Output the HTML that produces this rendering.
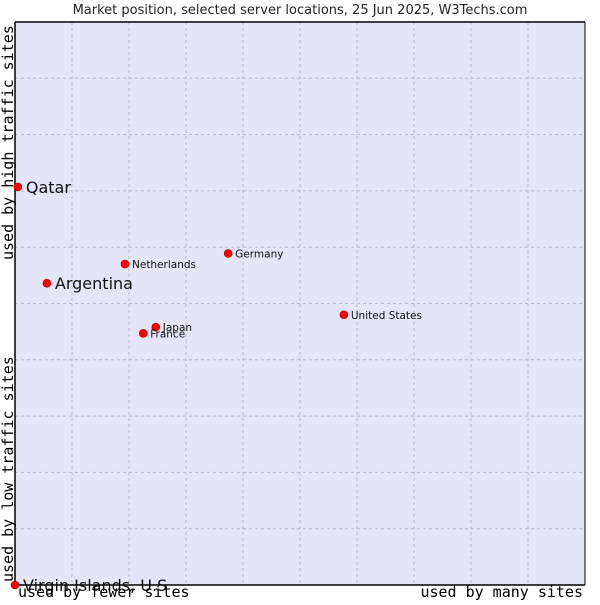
<!DOCTYPE html>
<html><head><meta charset="utf-8"><style>
body{margin:0;background:#fff;width:600px;height:600px;overflow:hidden}
svg text{font-family:"DejaVu Sans","Liberation Sans",sans-serif}
</style></head><body>
<svg id="chart" width="600" height="600" xmlns="http://www.w3.org/2000/svg">
<text x="300" y="14" text-anchor="middle" font-size="13" fill="#222">Market position, selected server locations, 25 Jun 2025, W3Techs.com</text>
<rect x="15" y="22" width="570" height="563" fill="#e4e5f7"/>
<g id="grid"></g>
<line x1="15" y1="22" x2="15" y2="585" stroke="#000" stroke-width="1.5"/>
<line x1="15" y1="585" x2="585" y2="585" stroke="#000" stroke-width="1.5"/>
<line x1="15" y1="22" x2="585" y2="22" stroke="#000" stroke-width="1.5"/>
<line x1="585" y1="22" x2="585" y2="585" stroke="#000" stroke-width="1"/>
<g id="points"></g>
<text x="18" y="597" font-size="15" style="font-family:'DejaVu Sans Mono','Liberation Mono',monospace" fill="#000">used by fewer sites</text>
<text x="583" y="597" text-anchor="end" font-size="15" style="font-family:'DejaVu Sans Mono','Liberation Mono',monospace" fill="#000">used by many sites</text>
<text transform="translate(13,582) rotate(-90)" font-size="15" style="font-family:'DejaVu Sans Mono','Liberation Mono',monospace" fill="#000">used by low traffic sites</text>
<text transform="translate(13,260) rotate(-90)" font-size="15" style="font-family:'DejaVu Sans Mono','Liberation Mono',monospace" fill="#000">used by high traffic sites</text>
</svg>
<script>
const names=["Qatar","Argentina","Netherlands","Germany","United States","Japan","France","Virgin Islands, U.S."];
const xValues=[0.5,5.6,19.3,37.4,57.7,24.7,22.5,0];
const yValues=[70.7,53.6,57.0,58.9,48.0,45.8,44.7,0];
const large=[true,true,false,false,false,false,false,true];
const gridTicks=[10,20,30,40,50,60,70,80,90];
const NS="http://www.w3.org/2000/svg";
const X=v=>15+v*5.7, Y=v=>585-v*5.63;
const grid=document.getElementById('grid'), pts=document.getElementById('points');
gridTicks.forEach(t=>{
 let l=document.createElementNS(NS,'line');
 
 
 l.setAttribute('x1',X(t));l.setAttribute('x2',X(t));l.setAttribute('y1',22);l.setAttribute('y2',585);
 l.setAttribute('stroke','#bbb');l.setAttribute('stroke-dasharray','3,3');grid.appendChild(l);
 let h=document.createElementNS(NS,'line');
 
 
 h.setAttribute('y1',Y(t));h.setAttribute('y2',Y(t));h.setAttribute('x1',15);h.setAttribute('x2',585);
 h.setAttribute('stroke','#bbb');h.setAttribute('stroke-dasharray','3,3');grid.appendChild(h);
});
names.forEach((n,i)=>{
 const x=X(xValues[i]),y=Y(yValues[i]);
 let c=document.createElementNS(NS,'circle');
 
 
 c.setAttribute('cx',x);c.setAttribute('cy',y);c.setAttribute('r',4);c.setAttribute('fill','#f00');c.setAttribute('stroke','#a00');c.setAttribute('stroke-width','0.6');pts.appendChild(c);
 let t=document.createElementNS(NS,'text');
 
 
 t.setAttribute('x',x+(large[i]?8:7));t.setAttribute('y',y+(large[i]?6:4));
 t.setAttribute('font-size',large[i]?16:10.5);t.setAttribute('fill','#111');
 t.textContent=n==="Virgin Islands, U.S."?"Virgin Islands, U.S":n;
 pts.appendChild(t);
});
</script>
</body></html>
